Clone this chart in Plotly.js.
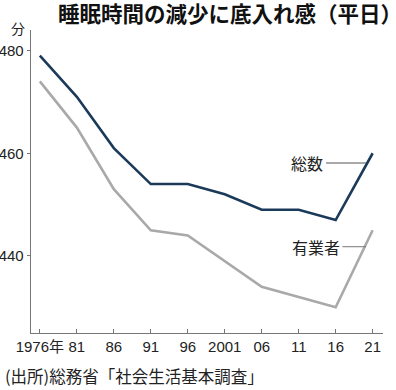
<!DOCTYPE html>
<html><head><meta charset="utf-8">
<script src="https://cdn.plot.ly/plotly-3.0.1.min.js"></script>
<style>html,body{margin:0;padding:0;background:#fff}#c{width:396px;height:390px}</style>
</head><body><div id="c"></div>
<script>
const years = [1976, 1981, 1986, 1991, 1996, 2001, 2006, 2011, 2016, 2021];
const tickLabels = ['1976年', '81', '86', '91', '96', '2001', '06', '11', '16', '21'];
const total = [479, 471, 461, 454, 454, 452, 449, 449, 447, 460];
const employed = [474, 465, 453, 445, 444, 439, 434, 432, 430, 445];
const seriesNames = ['総数', '有業者'];

const tickFont = {family: '"Liberation Sans", Arial, "Noto Sans CJK JP", sans-serif', size: 15, color: '#222'};
const cjk = '"Noto Sans CJK JP", sans-serif';

const traces = [
  {x: years, y: employed, mode: 'lines', name: seriesNames[1], line: {color: '#a9a9a9', width: 2.6}, hoverinfo: 'skip'},
  {x: years, y: total, mode: 'lines', name: seriesNames[0], line: {color: '#1b3a5a', width: 2.6}, hoverinfo: 'skip'}
];

const layout = {
  width: 396, height: 390,
  margin: {l: 31, r: 13, t: 30, b: 57},
  paper_bgcolor: '#fff', plot_bgcolor: '#fff',
  showlegend: false,
  xaxis: {
    range: [1974.8, 2022.4], tickvals: years, ticktext: tickLabels, tickangle: 0,
    showgrid: false, zeroline: false, showline: true, linecolor: '#777', linewidth: 1.3,
    ticks: 'inside', ticklen: 4, tickcolor: '#777', tickfont: tickFont
  },
  yaxis: {
    range: [425, 484], tickvals: [440, 460, 480],
    showgrid: false, zeroline: false, showline: true, linecolor: '#777', linewidth: 1.3,
    ticks: 'outside', ticklen: 3, tickcolor: '#777', tickfont: tickFont
  },
  annotations: [
    {xref: 'paper', yref: 'paper', x: 0.0085, y: 1.059, xanchor: 'left', yanchor: 'middle', align: 'left', xshift: 22, text: '<b>睡眠時間の減少に底入れ感（平日）</b>', showarrow: false, font: {family: cjk, size: 21.5, color: '#111'}},
    {xref: 'paper', yref: 'paper', x: -0.037, y: 1.005, xanchor: 'center', yanchor: 'middle', text: '分', showarrow: false, font: {family: cjk, size: 14, color: '#222'}},
    {xref: 'x', yref: 'y', x: 2014.6, y: 458.1, xanchor: 'right', yanchor: 'middle', text: seriesNames[0], showarrow: false, font: {family: cjk, size: 16, color: '#222'}},
    {xref: 'x', yref: 'y', x: 2016.8, y: 441.8, xanchor: 'right', yanchor: 'middle', text: seriesNames[1], showarrow: false, font: {family: cjk, size: 16, color: '#222'}},
    {xref: 'paper', yref: 'paper', x: -0.0795, y: -0.142, xanchor: 'left', yanchor: 'middle', align: 'left', text: '(出所)総務省「社会生活基本調査」', showarrow: false, font: {family: cjk, size: 16.5, color: '#222'}}
  ],
  shapes: [
    {type: 'line', xref: 'x', yref: 'y', x0: 2014.7, x1: 2020.1, y0: 458.1, y1: 458.1, line: {color: '#555', width: 1}},
    {type: 'line', xref: 'x', yref: 'y', x0: 2016.9, x1: 2020.1, y0: 441.8, y1: 441.8, line: {color: '#777', width: 1}}
  ]
};

Plotly.newPlot('c', traces, layout, {displayModeBar: false, staticPlot: true});
</script>
</body></html>
